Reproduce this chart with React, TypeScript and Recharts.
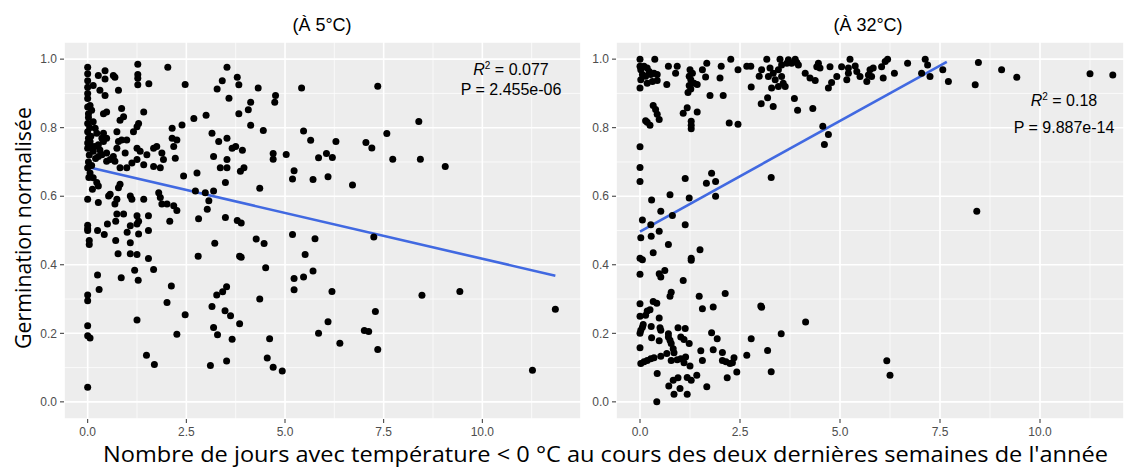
import React from "react";
import {
  CartesianGrid,
  ReferenceLine,
  Scatter,
  ScatterChart,
  XAxis,
  YAxis,
} from "recharts";

// axis ticks (ggplot style: major + minor grid)
const X_TICKS = [0, 2.5, 5, 7.5, 10];
const Y_TICKS = [0, 0.2, 0.4, 0.6, 0.8, 1.0];
const X_MINOR = [1.25, 3.75, 6.25, 8.75, 11.25];
const Y_MINOR = [0.1, 0.3, 0.5, 0.7, 0.9];

const TITLE_5 = "(À 5°C)";
const TITLE_32 = "(À 32°C)";
const Y_LABEL = "Germination normalisée";
const X_LABEL =
  "Nombre de jours avec température < 0 °C au cours des deux dernières semaines de l'année";

// linear fits (endpoints)
const fit5 = [
  { x: 0, y: 0.685 },
  { x: 11.85, y: 0.368 },
];
const fit32 = [
  { x: 0, y: 0.497 },
  { x: 7.67, y: 0.992 },
];

// points at 5°C: [jours, germination]
const pts5: [number, number][] = [
  [0, 0.976], [0, 0.957], [0, 0.937], [0, 0.918], [0.27, 0.952], [0.44, 0.966], [0.44, 0.942],
  [0.65, 0.952], [0.69, 0.947], [0.14, 0.923], [0.31, 0.909], [0.44, 0.894], [0.78, 0.909],
  [1.27, 0.985], [1.27, 0.955], [1.27, 0.944], [1.27, 0.925], [1.55, 0.928], [2.03, 0.976],
  [2.47, 0.926], [3.53, 0.976], [3.41, 0.937], [3.28, 0.913], [3.79, 0.947], [3.58, 0.886],
  [0, 0.885], [0, 0.86], [0.06, 0.865], [0.1, 0.851], [0.02, 0.841], [0.4, 0.841], [0.48, 0.846],
  [0.86, 0.856], [0.91, 0.832], [0.82, 0.822], [1.42, 0.846], [1.29, 0.812], [1.25, 0.803],
  [1.16, 0.788], [0, 0.812], [0, 0.788], [0.14, 0.817], [0.19, 0.798],
  [0.02, 0.769], [0.06, 0.76], [0, 0.74], [0.1, 0.745], [0.23, 0.784], [0.36, 0.769], [0.4, 0.784],
  [0.27, 0.75], [0.31, 0.735], [0.4, 0.76], [0.48, 0.769], [0.14, 0.731], [0.27, 0.716],
  [0.36, 0.721], [0.48, 0.726],
  [0.74, 0.788], [0.78, 0.76], [0.86, 0.764], [0.99, 0.764], [0.74, 0.74], [0.95, 0.726],
  [0.65, 0.716], [0.57, 0.707], [0.48, 0.702], [0.69, 0.702],
  [1.25, 0.74], [1.33, 0.731], [1.5, 0.721], [1.67, 0.74], [1.75, 0.745], [1.88, 0.726],
  [1.92, 0.707], [1.67, 0.687], [1.84, 0.683], [1.42, 0.692], [1.25, 0.707], [1.12, 0.697],
  [0.99, 0.683], [0.82, 0.683],
  [2.14, 0.798], [2.39, 0.808], [2.69, 0.827], [3.0, 0.836], [3.15, 0.784], [3.32, 0.76],
  [3.53, 0.769], [3.66, 0.74], [3.75, 0.745], [2.14, 0.769], [2.26, 0.764], [2.18, 0.745],
  [2.22, 0.711], [3.19, 0.716], [3.53, 0.707], [3.36, 0.683], [3.53, 0.683], [3.83, 0.841],
  [2.77, 0.668], [2.43, 0.659], [3.49, 0.64],
  [0, 0.683], [0.06, 0.668], [0.14, 0.654], [0.23, 0.64], [0.27, 0.63], [0, 0.591], [0.27, 0.582],
  [0.82, 0.635], [0.78, 0.625], [0.57, 0.606], [0.53, 0.601], [0.74, 0.591], [0.69, 0.577],
  [1.08, 0.601], [1.12, 0.591], [1.42, 0.591], [1.8, 0.61], [1.84, 0.596], [1.88, 0.577],
  [2.01, 0.577], [2.18, 0.572], [2.26, 0.558], [2.98, 0.61], [3.19, 0.615], [2.73, 0.615],
  [3.07, 0.587], [3.03, 0.562], [2.81, 0.534], [3.49, 0.538], [3.79, 0.529], [0.74, 0.548],
  [0.91, 0.548], [1.25, 0.543], [1.54, 0.543],
  [0, 0.515], [0, 0.505], [0, 0.5], [0.25, 0.5], [0.5, 0.519], [0.42, 0.488], [0.71, 0.527],
  [0.71, 0.471], [1.0, 0.495], [1.08, 0.514], [1.25, 0.519], [1.29, 0.527], [1.29, 0.49],
  [1.54, 0.5], [1.08, 0.464], [0.04, 0.471], [0.04, 0.459], [0.77, 0.432], [1.08, 0.432],
  [1.25, 0.43], [1.54, 0.418], [0.25, 0.37], [0.85, 0.362], [1.19, 0.384], [1.28, 0.355],
  [1.67, 0.386], [2.08, 0.527], [2.12, 0.338], [2.01, 0.29], [2.47, 0.254], [0, 0.312],
  [0, 0.295], [0.29, 0.328], [1.25, 0.239], [0, 0.222], [0, 0.193], [0.06, 0.186], [2.26, 0.197],
  [1.49, 0.136], [1.69, 0.109], [0, 0.043], [2.8, 0.425], [3.22, 0.463], [3.85, 0.425],
  [3.15, 0.278], [3.19, 0.217], [3.29, 0.196], [3.48, 0.266], [3.62, 0.251], [3.27, 0.312],
  [3.42, 0.321], [3.52, 0.336], [3.85, 0.228], [3.66, 0.183], [3.11, 0.106], [3.52, 0.119],
  [3.83, 0.925], [4.32, 0.916], [4.76, 0.894], [4.74, 0.874], [5.42, 0.916], [7.35, 0.921],
  [4.13, 0.874], [4.07, 0.852], [4.13, 0.807], [4.45, 0.792], [5.47, 0.79], [5.65, 0.763],
  [6.29, 0.76], [7.05, 0.757], [7.2, 0.741], [7.58, 0.783], [7.73, 0.708], [3.92, 0.734],
  [4.7, 0.725], [4.7, 0.708], [5.03, 0.722], [5.85, 0.712], [6.05, 0.725], [6.2, 0.713],
  [3.87, 0.673], [3.96, 0.683], [5.23, 0.674], [5.19, 0.65], [5.71, 0.649], [6.09, 0.657],
  [6.71, 0.633], [4.36, 0.623], [3.89, 0.522], [5.19, 0.488], [5.76, 0.476], [7.25, 0.481],
  [4.27, 0.475], [4.47, 0.462], [3.89, 0.422], [5.51, 0.43], [4.51, 0.391], [5.23, 0.36],
  [5.47, 0.364], [5.71, 0.382], [5.23, 0.327], [6.19, 0.322], [4.36, 0.3], [4.61, 0.184],
  [5.85, 0.2], [6.09, 0.234], [7.01, 0.208], [7.12, 0.205], [7.29, 0.264], [6.39, 0.171],
  [7.35, 0.153], [4.55, 0.128], [4.7, 0.101], [4.93, 0.09],
  [8.39, 0.818], [8.43, 0.708], [9.06, 0.687], [8.47, 0.311], [9.43, 0.322], [11.85, 0.27],
  [11.27, 0.092],
  // dense stack near zero days
  [0, 0.9], [0.02, 0.83], [0.05, 0.8], [0.08, 0.775], [0, 0.755], [0.04, 0.72], [0.02, 0.7],
  [0.1, 0.69], [0.03, 0.655], [0.12, 0.62], [0.18, 0.745], [0.2, 0.71],
];

// points at 32°C
const pts32: [number, number][] = [
  [0, 1.0], [0.37, 1.0], [0, 0.979], [0.02, 0.969], [0.1, 0.979], [0.18, 0.974], [0.23, 0.964],
  [0.06, 0.955], [0.14, 0.95], [0.02, 0.94], [0.27, 0.955], [0.35, 0.959], [0.43, 0.955],
  [0.18, 0.93], [0.31, 0.935], [0.43, 0.938], [0, 0.916], [0.71, 0.979], [0.93, 0.979],
  [0.89, 0.959], [0.67, 0.926], [1.25, 0.969], [1.31, 0.959], [1.23, 0.95], [1.27, 0.94],
  [1.35, 0.93], [1.23, 0.923], [1.27, 0.913], [1.2, 0.903], [1.43, 0.926], [1.56, 0.969],
  [1.67, 0.988], [1.64, 0.948], [1.75, 0.894], [2.0, 0.945], [2.03, 0.979], [2.08, 0.894],
  [2.27, 1.0], [2.45, 0.969], [2.67, 0.979], [2.77, 0.979], [2.78, 0.919], [2.98, 0.95],
  [0.33, 0.865], [0.39, 0.853], [0.43, 0.839], [0.48, 0.824], [0.18, 0.816], [0.25, 0.807],
  [0.14, 0.82], [1.18, 0.858], [1.08, 0.842], [1.43, 0.846], [1.28, 0.819], [1.28, 0.807],
  [1.28, 0.797], [2.23, 0.814], [2.45, 0.81], [0, 0.744], [0, 0.684], [0, 0.643], [1.13, 0.652],
  [1.66, 0.638], [1.79, 0.667], [1.89, 0.643], [1.89, 0.6], [0.29, 0.589], [0.75, 0.604],
  [1.23, 0.595], [0.06, 0.531], [0.52, 0.556], [0.81, 0.544], [0.27, 0.517], [1.13, 0.517],
  [0.48, 0.498],
  [0.02, 0.479], [0.28, 0.483], [0.71, 0.459], [0.33, 0.435], [0, 0.419], [0.06, 0.415],
  [1.28, 0.419], [1.28, 0.413], [1.5, 0.444], [0, 0.372], [0.48, 0.374], [0.52, 0.364],
  [0.62, 0.383], [1.08, 0.354], [0.78, 0.32], [0.75, 0.308], [1.48, 0.308], [1.56, 0.272],
  [1.83, 0.277], [2.13, 0.316], [3.02, 0.28], [0, 0.286], [0.18, 0.265], [0.25, 0.269],
  [0.33, 0.293], [0.42, 0.288], [0, 0.25], [0.14, 0.253], [0.48, 0.245], [0.08, 0.226],
  [0.06, 0.218], [0, 0.2], [0.02, 0.209], [0.28, 0.22], [0.5, 0.216], [0.52, 0.209],
  [0.29, 0.187], [0.48, 0.178], [0.71, 0.199], [0.71, 0.189], [0.75, 0.18], [0.78, 0.17],
  [0.83, 0.155], [0.95, 0.216], [1.13, 0.214], [1.02, 0.189], [1.1, 0.182], [1.23, 0.17],
  [1.79, 0.202], [1.93, 0.184], [0, 0.158], [1.52, 0.149], [1.83, 0.152], [2.06, 0.144],
  [2.35, 0.129], [2.67, 0.136], [2.78, 0.184], [0.02, 0.112], [0.1, 0.117], [0.18, 0.121],
  [0.27, 0.126], [0.35, 0.129], [0.52, 0.133], [0.67, 0.141], [0.85, 0.143], [0.78, 0.121],
  [0.93, 0.123], [1.02, 0.126], [1.14, 0.131], [1.1, 0.114], [1.25, 0.105], [1.56, 0.121],
  [2.06, 0.121], [2.15, 0.117], [2.25, 0.112], [2.31, 0.114], [2.42, 0.087], [2.18, 0.07],
  [0.43, 0.083], [0.83, 0.063], [0.95, 0.07], [0.72, 0.046], [1.0, 0.039], [0.85, 0.022],
  [1.18, 0.022], [1.18, 0.071], [1.28, 0.063], [1.42, 0.078], [1.67, 0.044], [0.42, 0.0],
  [3.04, 0.969], [3.17, 1.0], [3.25, 0.974], [3.21, 0.949], [3.33, 0.959], [3.38, 0.94],
  [3.46, 0.969], [3.5, 1.0], [3.54, 0.983], [3.54, 0.949], [3.58, 0.93], [3.63, 0.92],
  [3.46, 0.92], [3.29, 0.916], [3.67, 0.988], [3.71, 0.998], [3.79, 0.988], [3.88, 1.0],
  [3.92, 0.99], [3.96, 0.983], [4.13, 0.959], [4.25, 0.945], [4.38, 0.938], [4.42, 0.978],
  [4.46, 0.988], [4.5, 0.974], [4.75, 0.978], [4.71, 0.916], [4.79, 0.932], [4.92, 0.949],
  [5.04, 0.978], [5.17, 0.94], [5.21, 0.959], [5.25, 1.0], [5.21, 0.974], [5.38, 0.98],
  [5.42, 0.964], [5.5, 0.949], [5.67, 0.935], [5.71, 0.954], [5.75, 0.969], [5.83, 0.974],
  [5.79, 0.949], [6.04, 0.978], [6.08, 0.945], [6.13, 0.993], [6.19, 1.0], [6.36, 0.959],
  [6.69, 0.988], [7.04, 0.959], [7.13, 1.0], [7.19, 0.983], [7.25, 0.949],
  [3.03, 0.87], [3.19, 0.887], [3.33, 0.862], [3.86, 0.885], [3.94, 0.851], [4.32, 0.856],
  [4.57, 0.804], [4.71, 0.78], [4.61, 0.751], [3.28, 0.655], [3.04, 0.276], [4.14, 0.233],
  [3.53, 0.199], [3.19, 0.15], [3.28, 0.088], [6.17, 0.12], [6.25, 0.078],
  [7.57, 0.969], [7.71, 0.935], [8.46, 0.99], [8.38, 0.925], [9.04, 0.969], [9.42, 0.947],
  [11.25, 0.957], [11.82, 0.954], [8.42, 0.556],
];

const FONT = "'Liberation Sans', Arial, sans-serif";
const TICK = { fontSize: 12, fill: "#4D4D4D", fontFamily: FONT };

const Dot = (p: any) => <circle cx={p.cx} cy={p.cy} r={3.5} fill="#000" />;

function Panel({
  points,
  fit,
  xMax,
  width,
  left,
  marginLeft,
  marginRight,
}: {
  points: [number, number][];
  fit: { x: number; y: number }[];
  xMax: number;
  width: number;
  left: number;
  marginLeft: number;
  marginRight: number;
}) {
  const data = points.map(([x, y]) => ({ x, y }));
  return (
    <div style={{ position: "absolute", left, top: 0 }}>
      <ScatterChart
        width={width}
        height={467}
        margin={{ top: 42, right: marginRight, bottom: 18, left: marginLeft }}
      >
        <CartesianGrid fill="#EDEDED" stroke="#FFFFFF" strokeWidth={1.6} />
        {X_MINOR.map((v) => (
          <ReferenceLine key={"x" + v} x={v} stroke="#FFFFFF" strokeWidth={0.7} />
        ))}
        {Y_MINOR.map((v) => (
          <ReferenceLine key={"y" + v} y={v} stroke="#FFFFFF" strokeWidth={0.7} />
        ))}
        <XAxis
          type="number"
          dataKey="x"
          domain={[-0.6, xMax]}
          ticks={X_TICKS}
          interval={0}
          allowDataOverflow
          tickFormatter={(v: number) => v.toFixed(1)}
          axisLine={false}
          tickLine={{ stroke: "#333333" }}
          tickSize={4}
          tickMargin={4}
          tick={TICK}
          height={30}
        />
        <YAxis
          type="number"
          dataKey="y"
          domain={[-0.05, 1.05]}
          ticks={Y_TICKS}
          interval={0}
          allowDataOverflow
          tickFormatter={(v: number) => v.toFixed(1)}
          axisLine={false}
          tickLine={{ stroke: "#333333" }}
          tickSize={4}
          tickMargin={3}
          tick={TICK}
          width={40}
        />
        <Scatter data={data} shape={Dot} isAnimationActive={false} />
        <ReferenceLine segment={fit} stroke="#4169E1" strokeWidth={2.6} ifOverflow="visible" />
      </ScatterChart>
    </div>
  );
}

function Stat({ x, y, r2, p, gap }: { x: number; y: number; r2: string; p: string; gap: number }) {
  const line: React.CSSProperties = {
    position: "absolute",
    left: x - 100,
    width: 200,
    textAlign: "center",
    fontFamily: FONT,
    fontSize: 16,
    lineHeight: "18px",
    color: "#000",
    whiteSpace: "nowrap",
  };
  return (
    <>
      <div style={{ ...line, top: y }}>
        <i>R</i>
        <sup style={{ fontSize: 10, verticalAlign: "6px", lineHeight: 0 }}>2</sup> = {r2}
      </div>
      <div style={{ ...line, top: y + gap }}>P = {p}</div>
    </>
  );
}

export default function App() {
  return (
    <div
      style={{
        position: "absolute",
        left: 0,
        top: 0,
        width: 1124,
        height: 467,
        background: "#FFFFFF",
        overflow: "hidden",
      }}
    >
      <Panel points={pts5} fit={fit5} xMax={12.5} width={590} left={0} marginLeft={24} marginRight={9} />
      <Panel points={pts32} fit={fit32} xMax={12.1} width={554} left={570} marginLeft={6} marginRight={0} />

      <Stat x={511} y={61} r2="0.077" p="2.455e-06" gap={20} />
      <Stat x={1064} y={92} r2="0.18" p="9.887e-14" gap={27} />

      <svg
        width={1124}
        height={467}
        style={{ position: "absolute", left: 0, top: 0, pointerEvents: "none" }}
      >
        <text x={322} y={31} textAnchor="middle" fontFamily={FONT} fontSize={18} fill="#000">
          {TITLE_5}
        </text>
        <text x={868} y={31} textAnchor="middle" fontFamily={FONT} fontSize={18} fill="#000">
          {TITLE_32}
        </text>
        <text
          x={0}
          y={0}
          transform="translate(31 228) rotate(-90)"
          textAnchor="middle"
          fontFamily="'Open Sans', 'Noto Sans', sans-serif"
          fontSize={21}
          textLength={242}
          lengthAdjust="spacingAndGlyphs"
          fill="#000"
        >
          {Y_LABEL}
        </text>
        <text
          x={103}
          y={462}
          fontFamily="'Open Sans', 'Noto Sans', sans-serif"
          fontSize={22}
          textLength={1005}
          lengthAdjust="spacingAndGlyphs"
          fill="#000"
        >
          {X_LABEL}
        </text>
      </svg>
    </div>
  );
}
